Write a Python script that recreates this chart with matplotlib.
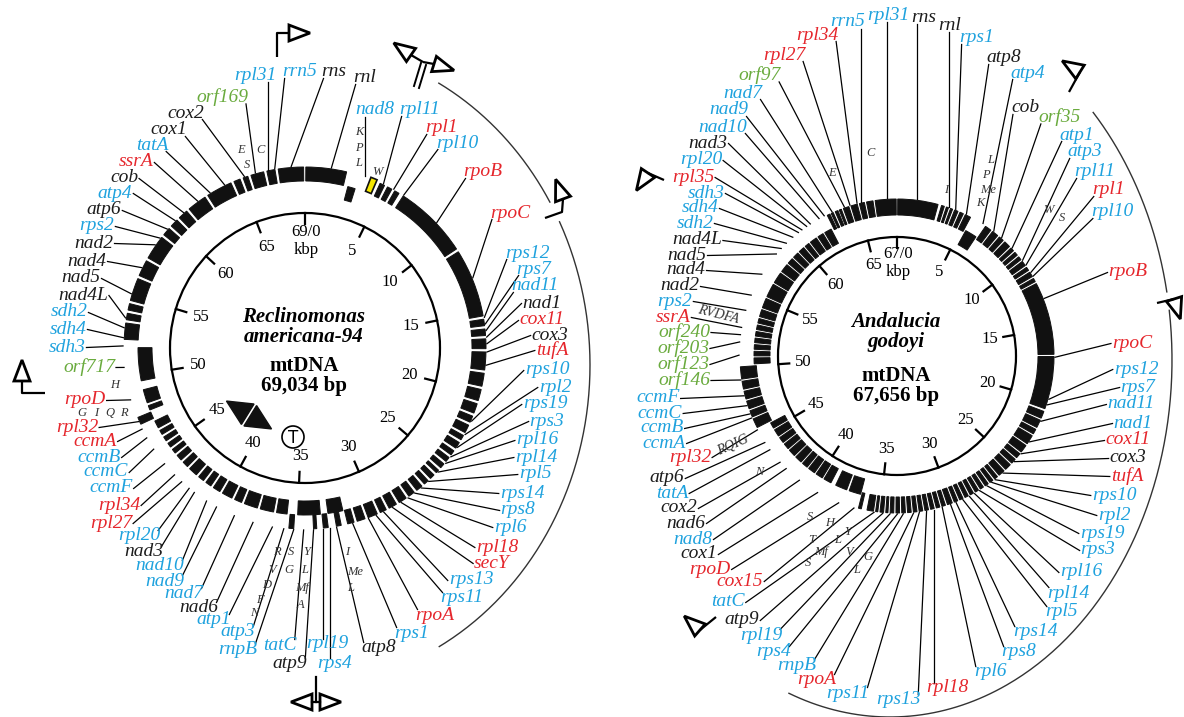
import numpy as np
import matplotlib
matplotlib.use("Agg")
import matplotlib.pyplot as plt
from matplotlib.patches import Wedge, Circle, Polygon

plt.rcParams["font.family"] = ["Liberation Serif", "DejaVu Serif"]

W, H = 1184, 717
COLORS = {"k": "#1c1c1c", "b": "#1fa2de", "r": "#e5262c", "g": "#6aab3e"}

# ---------------- Reclinomonas americana-94 ----------------
RA_LENGTH = 69.034
RA_GENES = ["rnl", "rns", "rrn5", "rpl31", "orf169", "cox2", "cox1", "tatA",
            "ssrA", "cob", "atp4", "atp6", "rps2", "nad2", "nad4", "nad5",
            "nad4L", "sdh2", "sdh4", "sdh3", "orf717", "rpoD", "rpl32", "ccmA",
            "ccmB", "ccmC", "ccmF", "rpl34", "rpl27", "rpl20", "nad3", "nad10",
            "nad9", "nad7", "nad6", "atp1", "atp3", "rnpB", "tatC", "atp9",
            "rpl19", "rps4", "atp8", "rps1", "rpoA", "rps11", "rps13", "secY",
            "rpl18", "rpl6", "rps8", "rps14", "rpl5", "rpl14", "rpl16", "rps3",
            "rps19", "rpl2", "rps10", "tufA", "cox3", "cox11", "nad1", "nad11",
            "rps7", "rps12", "rpoC", "rpoB", "rpl10", "rpl1", "rpl11", "nad8"]
RA_CLASS = ["k", "k", "b", "b", "g", "k", "k", "b",
            "r", "k", "b", "k", "b", "k", "k", "k",
            "k", "b", "b", "b", "g", "r", "r", "r",
            "b", "b", "b", "r", "r", "b", "k", "b",
            "b", "b", "k", "b", "b", "b", "b", "k",
            "b", "b", "k", "b", "r", "b", "b", "r",
            "r", "b", "b", "b", "b", "b", "b", "b",
            "b", "b", "b", "r", "k", "r", "k", "b",
            "b", "b", "r", "r", "b", "r", "b", "b"]
RA_KBP = [1.6, 68.2, 67.2, 66.8, 66.0, 65.3, 64.0, 63.0,
          62.1, 61.0, 60.3, 59.6, 58.9, 58.4, 56.8, 55.1,
          53.6, 53.0, 52.4, 51.9, 50.6, 48.6, 47.2, 46.7,
          46.1, 45.3, 44.2, 43.3, 42.7, 42.1, 41.7, 40.8,
          40.1, 38.9, 37.7, 36.5, 35.8, 35.2, 34.6, 34.0,
          33.4, 33.0, 32.6, 31.6, 30.6, 30.1, 29.6, 29.0,
          28.4, 27.9, 27.4, 26.9, 26.3, 25.5, 24.8, 24.3,
          23.6, 22.7, 21.8, 18.3, 17.5, 17.0, 16.6, 16.2,
          15.8, 15.4, 12.9, 8.9, 6.3, 5.6, 4.9, 3.7]
# gene blocks on the ring: (start kbp, end kbp, strand track)
RA_BLOCKS = [
    (0.05, 2.55, "o"), (2.85, 3.35, "i"), (4.7, 5.0, "o"), (5.2, 5.5, "o"), (5.7, 6.0, "o"),
    (6.3, 10.9, "o"), (11.1, 15.3, "o"), (15.5, 15.9, "o"), (16.1, 16.5, "o"), (16.7, 17.3, "o"),
    (17.5, 18.6, "o"), (18.8, 19.6, "o"), (19.8, 20.5, "o"), (20.7, 21.3, "o"), (21.5, 21.9, "o"),
    (22.1, 22.6, "o"), (22.8, 23.1, "o"), (23.3, 23.7, "o"), (23.9, 24.2, "o"), (24.4, 24.7, "o"),
    (24.9, 25.2, "o"), (25.4, 25.6, "o"), (25.8, 26.1, "o"), (26.3, 26.6, "o"), (26.8, 27.2, "o"),
    (27.4, 27.8, "o"), (28.0, 28.5, "o"), (28.7, 29.2, "o"), (29.4, 29.8, "o"), (30.0, 30.6, "o"),
    (30.8, 31.3, "o"), (31.5, 31.9, "o"), (32.3, 32.6, "o"), (33.1, 33.4, "o"), (33.8, 34.0, "o"),
    (35.2, 35.5, "o"), (32.0, 33.0, "i"), (33.5, 35.0, "i"), (35.7, 36.4, "i"), (36.6, 37.5, "i"),
    (37.7, 38.6, "i"), (38.8, 39.3, "i"), (39.5, 40.2, "i"), (40.4, 40.9, "i"), (41.1, 41.5, "i"),
    (41.7, 42.1, "i"), (42.3, 42.9, "i"), (43.1, 43.5, "i"), (43.7, 44.1, "i"), (44.3, 44.6, "i"),
    (44.8, 45.1, "i"), (45.3, 45.6, "i"), (45.8, 46.1, "i"), (46.3, 46.8, "i"), (47.0, 47.45, "o"),
    (47.6, 47.9, "i"), (48.1, 49.0, "i"), (49.6, 51.8, "i"), (52.3, 53.3, "o"), (53.5, 53.9, "o"),
    (54.1, 54.5, "o"), (54.7, 56.1, "o"), (56.3, 57.3, "o"), (57.5, 59.0, "o"), (59.2, 59.7, "o"),
    (59.9, 60.4, "o"), (60.6, 61.2, "o"), (61.4, 62.6, "o"), (62.8, 64.4, "o"), (64.6, 65.0, "o"),
    (65.2, 65.5, "o"), (65.7, 66.5, "o"), (66.7, 67.2, "o"), (67.4, 68.95, "o")]
RA_HIGHLIGHT = (4.05, 4.45)
RA_TRNA = ["E", "S", "C", "K", "P", "L", "W", "H", "G", "I", "Q", "R",
           "R", "V", "D", "F", "N", "S", "G", "Y", "L", "Mf", "A", "I", "Me", "L"]

# ---------------- Andalucia godoyi ----------------
AG_LENGTH = 67.656
AG_GENES = ["rpl31", "rrn5", "rpl34", "rpl27", "orf97", "nad7", "nad9", "nad10",
            "nad3", "rpl20", "rpl35", "sdh3", "sdh4", "sdh2", "nad4L", "nad5",
            "nad4", "nad2", "rps2", "ssrA", "orf240", "orf203", "orf123", "orf146",
            "ccmF", "ccmC", "ccmB", "ccmA", "rpl32", "atp6", "tatA", "cox2",
            "nad6", "nad8", "cox1", "rpoD", "cox15", "tatC", "atp9", "rpl19",
            "rps4", "rnpB", "rpoA", "rps11", "rps13", "rpl18", "rpl6", "rps8",
            "rps14", "rpl5", "rpl14", "rpl16", "rps3", "rps19", "rpl2", "rps10",
            "tufA", "cox3", "cox11", "nad1", "nad11", "rps7", "rps12", "rpoC",
            "rpoB", "rpl10", "rpl1", "rpl11", "atp3", "atp1", "orf35", "cob",
            "atp4", "atp8", "rps1", "rnl", "rns"]
AG_CLASS = ["b", "b", "r", "r", "g", "b", "b", "b",
            "k", "b", "r", "b", "b", "b", "k", "k",
            "k", "k", "b", "r", "g", "g", "g", "g",
            "b", "b", "b", "b", "r", "k", "b", "k",
            "k", "b", "k", "r", "r", "b", "k", "b",
            "b", "b", "r", "b", "b", "r", "b", "b",
            "b", "b", "b", "b", "b", "b", "b", "b",
            "r", "k", "r", "b", "b", "b", "b", "r",
            "r", "b", "r", "b", "b", "b", "g", "k",
            "b", "k", "b", "k", "k"]
AG_KBP = [67.0, 65.2, 64.9, 64.4, 64.0, 63.1, 62.5, 62.1,
          61.4, 61.1, 60.7, 60.4, 59.9, 59.3, 58.8, 58.3,
          56.6, 55.0, 53.9, 52.7, 52.2, 51.7, 50.8, 49.1,
          48.0, 47.3, 46.7, 46.4, 45.5, 44.5, 43.9, 42.8,
          42.2, 41.0, 39.5, 37.9, 36.8, 35.4, 34.8, 34.3,
          33.8, 33.4, 32.7, 32.3, 31.8, 31.3, 30.7, 30.1,
          29.7, 29.2, 28.7, 28.3, 27.9, 27.3, 26.9, 26.6,
          25.9, 24.8, 24.1, 23.1, 21.5, 20.3, 19.9, 17.0,
          12.9, 11.2, 10.9, 10.3, 9.9, 8.8, 7.8, 7.1,
          6.2, 4.9, 4.1, 3.6, 1.4]
AG_BLOCKS = [
    (0.05, 2.85, "o"), (3.1, 3.3, "o"), (3.45, 3.6, "o"), (3.75, 3.9, "o"), (4.05, 4.3, "o"),
    (4.45, 4.7, "o"), (4.85, 5.25, "o"), (5.4, 6.3, "i"), (6.45, 6.9, "o"), (7.05, 7.5, "o"),
    (7.65, 8.0, "o"), (8.15, 8.6, "o"), (8.75, 9.0, "o"), (9.15, 9.4, "o"), (9.55, 9.8, "o"),
    (9.95, 10.3, "o"), (10.45, 10.7, "o"), (10.85, 11.2, "o"), (11.35, 11.6, "o"), (11.75, 16.8, "o"),
    (16.95, 20.6, "o"), (20.8, 21.3, "o"), (21.45, 22.0, "o"), (22.15, 22.5, "o"), (22.65, 23.3, "o"),
    (23.45, 24.0, "o"), (24.15, 24.5, "o"), (24.65, 25.0, "o"), (25.15, 25.6, "o"), (25.75, 26.2, "o"),
    (26.35, 26.6, "o"), (26.75, 27.0, "o"), (27.15, 27.4, "o"), (27.55, 27.8, "o"), (27.95, 28.2, "o"),
    (28.35, 28.6, "o"), (28.75, 29.0, "o"), (29.15, 29.4, "o"), (29.55, 29.8, "o"), (29.95, 30.3, "o"),
    (30.45, 30.7, "o"), (30.85, 31.1, "o"), (31.25, 31.5, "o"), (31.65, 31.9, "o"), (32.05, 32.3, "o"),
    (32.45, 32.7, "o"), (32.85, 33.1, "o"), (33.25, 33.5, "o"), (33.65, 33.9, "o"), (34.05, 34.3, "o"),
    (34.45, 34.6, "o"), (34.75, 35.0, "o"), (35.15, 35.3, "o"), (35.45, 35.9, "o"), (36.3, 36.5, "o"),
    (36.6, 37.5, "i"), (37.7, 38.6, "i"), (39.0, 39.6, "i"), (39.75, 40.3, "i"), (40.45, 41.0, "i"),
    (41.15, 41.6, "i"), (41.75, 42.3, "i"), (42.45, 43.0, "i"), (43.15, 43.6, "i"), (43.75, 44.2, "i"),
    (44.35, 44.9, "i"), (45.05, 45.5, "i"), (45.65, 46.3, "o"), (46.45, 46.9, "o"), (47.05, 47.6, "o"),
    (47.75, 48.3, "o"), (48.45, 49.0, "o"), (49.15, 50.0, "o"), (50.15, 50.6, "i"), (50.75, 51.1, "i"),
    (51.25, 51.6, "i"), (51.75, 52.1, "i"), (52.25, 52.6, "i"), (52.75, 53.1, "i"), (53.25, 53.6, "i"),
    (53.75, 54.3, "i"), (54.45, 55.2, "i"), (55.35, 56.4, "i"), (56.55, 57.4, "i"), (57.55, 58.2, "i"),
    (58.35, 58.8, "i"), (58.95, 59.4, "i"), (59.55, 60.0, "i"), (60.15, 60.5, "i"), (60.65, 61.2, "i"),
    (61.35, 61.8, "i"), (61.95, 62.5, "i"), (62.7, 62.9, "o"), (63.0, 63.15, "o"), (63.3, 63.5, "o"),
    (63.6, 63.75, "o"), (63.9, 64.3, "o"), (64.45, 64.9, "o"), (65.05, 65.4, "o"), (65.55, 66.0, "o"),
    (66.15, 67.6, "o")]
AG_TRNA = ["C", "E", "I", "L", "P", "Me", "K", "W", "S", "N", "S", "H", "T", "L",
           "Y", "Mf", "V", "S", "G", "L"]

# ---------------- layout (pixels) ----------------
RA_CENTER, RA_CIRCLE_R, RA_TICK_LABEL_R = (305, 348), 135, 108
RA_TRACKS = {"o": (167, 181), "i": (153, 167)}
AG_CENTER, AG_CIRCLE_R, AG_TICK_LABEL_R = (897, 356), 119, 94
AG_TRACKS = {"o": (141, 157), "i": (127, 143)}

RA_LABEL_XY = [(365, 78), (334, 72), (300, 72), (255, 75), (222, 97), (186, 113), (169, 130), (152, 145),
               (136, 162), (124, 178), (115, 193), (104, 210), (97, 226), (94, 243), (87, 261), (81, 278),
               (83, 295), (69, 312), (68, 329), (67, 347), (89, 367), (85, 400), (77, 427), (95, 441),
               (99, 457), (106, 472), (111, 488), (119, 505), (111, 523), (139, 536), (144, 552), (160, 566),
               (165, 581), (184, 594), (199, 608), (214, 620), (238, 632), (238, 649), (280, 645), (290, 664),
               (327, 644), (335, 663), (379, 648), (412, 633), (435, 615), (462, 598), (471, 580), (492, 563),
               (497, 547), (510, 527), (518, 510), (522, 493), (535, 474), (536, 457), (537, 440), (547, 421),
               (545, 404), (555, 387), (547, 370), (552, 350), (550, 335), (542, 320), (542, 303), (535, 286),
               (534, 269), (527, 253), (510, 213), (483, 172), (457, 143), (441, 128), (420, 110), (375, 110)]
AG_LABEL_XY = [(888, 15), (848, 22), (817, 35), (784, 55), (760, 75), (743, 93), (729, 110), (723, 127),
               (708, 143), (701, 160), (693, 177), (706, 193), (700, 208), (695, 223), (697, 240), (687, 255),
               (686, 270), (680, 286), (675, 301), (673, 317), (684, 332), (683, 348), (683, 364), (684, 380),
               (658, 398), (660, 413), (662, 428), (664, 443), (690, 457), (667, 478), (672, 493), (679, 508),
               (686, 523), (693, 539), (699, 554), (710, 569), (740, 581), (728, 602), (742, 620), (761, 635),
               (774, 652), (797, 665), (817, 680), (848, 693), (898, 700), (947, 688), (990, 672), (1019, 652),
               (1035, 632), (1061, 612), (1068, 593), (1081, 572), (1098, 550), (1102, 533), (1114, 515), (1114, 495),
               (1127, 476), (1128, 458), (1128, 440), (1133, 423), (1131, 404), (1138, 387), (1136, 369), (1132, 343),
               (1128, 272), (1112, 212), (1108, 190), (1095, 172), (1085, 152), (1077, 135), (1060, 117), (1025, 108),
               (1028, 73), (1004, 58), (977, 38), (950, 25), (924, 17)]
RA_TRNA_XY = [(241, 150), (247, 165), (260, 150), (359, 132), (359, 148), (359, 163), (377, 172),
              (115, 385), (82, 413), (96, 413), (110, 413), (124, 413),
              (277, 552), (272, 570), (267, 585), (260, 600), (254, 613), (291, 552), (289, 570),
              (307, 552), (305, 570), (302, 588), (300, 605), (347, 552), (355, 572), (351, 588)]
AG_TRNA_XY = [(870, 153), (832, 173), (946, 190), (991, 160), (986, 175), (988, 190), (980, 203),
              (1048, 210), (1062, 218), (759, 472), (810, 517), (830, 523), (812, 540), (838, 540),
              (848, 532), (821, 552), (849, 552), (808, 563), (868, 557), (857, 570)]

for names, cls, kb, xy in [(RA_GENES, RA_CLASS, RA_KBP, RA_LABEL_XY),
                           (AG_GENES, AG_CLASS, AG_KBP, AG_LABEL_XY)]:
    assert len(names) == len(cls) == len(kb) == len(xy)


def polar(c, r, kbp, length):
    a = 2.0 * np.pi * np.asarray(kbp, dtype=float) / length
    return c[0] + r * np.sin(a), c[1] - r * np.cos(a)


def open_triangle(ax, base, direction, length=21, half=8, lw=2.0):
    d = np.asarray(direction, dtype=float)
    d /= np.linalg.norm(d)
    n = np.array([-d[1], d[0]])
    b = np.asarray(base, dtype=float)
    pts = [b + n * half, b + d * length, b - n * half]
    ax.add_patch(Polygon(pts, closed=True, fill=False, ec="k", lw=lw, joinstyle="miter"))


def promoter(ax, pts, direction):
    xs, ys = zip(*pts)
    ax.plot(xs, ys, color="k", lw=1.6, solid_capstyle="butt")
    open_triangle(ax, pts[-1], direction)


def ellipse_arc(ax, c, rx, ry, t0, t1):
    t = np.radians(np.linspace(t0, t1, 200))
    ax.plot(c[0] + rx * np.cos(t), c[1] + ry * np.sin(t), color="#333333", lw=1.0)


def draw_map(ax, c, length, circle_r, tick_r, tracks, blocks, highlight):
    ax.add_patch(Circle(c, circle_r, fill=False, ec="k", lw=1.6))
    for k in range(0, int(length), 5):
        x0, y0 = polar(c, circle_r, k, length)
        x1, y1 = polar(c, circle_r - 11, k, length)
        ax.plot([x0, x1], [y0, y1], color="k", lw=1.6)
        tx, ty = polar(c, tick_r, k, length)
        if k == 0:
            ax.text(tx + 1, ty - 8, f"{int(length)}/0", ha="center", va="center", fontsize=12)
            ax.text(tx + 1, ty + 10, "kbp", ha="center", va="center", fontsize=12)
        else:
            ax.text(tx, ty, str(k), ha="center", va="center", fontsize=12)
    for s, e, tr in blocks:
        r0, r1 = tracks[tr]
        ax.add_patch(Wedge(c, r1, s / length * 360 - 90, e / length * 360 - 90,
                           width=r1 - r0, facecolor="#111111", edgecolor="#111111", lw=0.7))
    if highlight is not None:
        r0, r1 = tracks["o"]
        ax.add_patch(Wedge(c, r1 + 2, highlight[0] / length * 360 - 90,
                           highlight[1] / length * 360 - 90, width=r1 - r0 + 1,
                           facecolor="#f4e600", edgecolor="#111111", lw=1.2))


def draw_labels(fig, ax, c, length, r_end, names, classes, kbps, label_xy):
    texts = []
    for name, cl, (x, y) in zip(names, classes, label_xy):
        texts.append(ax.text(x, y, name, color=COLORS[cl], fontsize=14, style="italic",
                             ha="center", va="center"))
    fig.canvas.draw()
    inv = ax.transData.inverted()
    for t, k in zip(texts, kbps):
        bb = t.get_window_extent()
        (x0, y0), (x1, y1) = inv.transform([[bb.x0, bb.y0], [bb.x1, bb.y1]])
        xlo, xhi = sorted((x0, x1))
        ylo, yhi = sorted((y0, y1))
        ylo, yhi = ylo + 4, yhi - 3
        ex, ey = polar(c, r_end, k, length)
        dx_out = max(xlo - ex, ex - xhi, 0)
        dy_out = max(ylo - ey, ey - yhi, 0)
        if dx_out > dy_out:
            sx = xhi + 1 if ex > xhi else xlo - 1
            sy = 0.5 * (ylo + yhi)
        else:
            sx = np.clip(ex, xlo + 2, xhi - 2)
            sy = yhi + 1 if ey > yhi else ylo - 1
        ax.plot([sx, ex], [sy, ey], color="k", lw=0.9)


fig = plt.figure(figsize=(W / 100, H / 100), dpi=100)
ax = fig.add_axes([0, 0, 1, 1])
ax.set_xlim(0, W)
ax.set_ylim(H, 0)
ax.axis("off")

# Reclinomonas map
draw_map(ax, RA_CENTER, RA_LENGTH, RA_CIRCLE_R, RA_TICK_LABEL_R, RA_TRACKS, RA_BLOCKS, RA_HIGHLIGHT)
draw_labels(fig, ax, RA_CENTER, RA_LENGTH, RA_TRACKS["o"][1] + 1,
            RA_GENES, RA_CLASS, RA_KBP, RA_LABEL_XY)
for s, (x, y) in zip(RA_TRNA, RA_TRNA_XY):
    ax.text(x, y, s, fontsize=9, style="italic", color="#333333", ha="center", va="center")
ax.text(304, 327, "Reclinomonas\namericana-94", ha="center", va="center", fontsize=15,
        weight="bold", style="italic", linespacing=1.0)
ax.text(304, 376, "mtDNA\n69,034 bp", ha="center", va="center", fontsize=15,
        weight="bold", linespacing=1.0)
mid = np.array([249.0, 415.0])
u = np.array([0.85, 0.526])
nrm = np.array([-u[1], u[0]])
for sgn in (-1, 1):
    base = mid + sgn * 1.5 * u
    ax.add_patch(Polygon([base + nrm * 12, base + sgn * 25 * u, base - nrm * 12],
                         closed=True, color="#111111"))
ax.add_patch(Circle((293, 437), 11, fill=False, ec="k", lw=1.2))
ax.text(293, 438, "T", family="DejaVu Sans", fontsize=12, ha="center", va="center")

promoter(ax, [(277, 57), (277, 33), (289, 33)], (1, 0))
ax.plot([414, 421], [86, 63], color="k", lw=1.4)
ax.plot([419, 426], [88, 65], color="k", lw=1.4)
promoter(ax, [(423, 62), (411, 55)], (-0.82, -0.57))
promoter(ax, [(423, 62), (434, 64)], (0.95, 0.3))
promoter(ax, [(545, 218), (562, 212), (563, 199)], (-0.35, -0.94))
promoter(ax, [(45, 393), (22, 393), (22, 381)], (0, -1))
ax.plot([316, 316], [677, 702], color="k", lw=1.6)
ax.plot([312, 320], [702, 702], color="k", lw=1.6)
open_triangle(ax, (312, 702), (-1, 0))
open_triangle(ax, (320, 702), (1, 0))
ellipse_arc(ax, (300, 365), 290, 321, -61.4, -30.5)
ellipse_arc(ax, (300, 365), 290, 321, -26.5, 61.3)

# Andalucia map
draw_map(ax, AG_CENTER, AG_LENGTH, AG_CIRCLE_R, AG_TICK_LABEL_R, AG_TRACKS, AG_BLOCKS, None)
draw_labels(fig, ax, AG_CENTER, AG_LENGTH, AG_TRACKS["o"][1] + 1,
            AG_GENES, AG_CLASS, AG_KBP, AG_LABEL_XY)
for s, (x, y) in zip(AG_TRNA, AG_TRNA_XY):
    ax.text(x, y, s, fontsize=9, style="italic", color="#333333", ha="center", va="center")
ax.text(718, 315, "RVDFA", fontsize=10, style="italic", color="#333333", ha="center",
        va="center", rotation=-14)
ax.text(733, 445, "RQIG", fontsize=10, style="italic", color="#333333", ha="center",
        va="center", rotation=24)
ax.text(896, 332, "Andalucia\ngodoyi", ha="center", va="center", fontsize=15,
        weight="bold", style="italic", linespacing=1.0)
ax.text(896, 386, "mtDNA\n67,656 bp", ha="center", va="center", fontsize=15,
        weight="bold", linespacing=1.0)

promoter(ax, [(1069, 92), (1080, 72)], (-0.85, -0.53))
promoter(ax, [(664, 180), (648, 173)], (-0.55, 0.83))
promoter(ax, [(1157, 303), (1174, 299)], (0.3, 0.95))
promoter(ax, [(716, 617), (700, 630)], (-0.75, -0.66))
ellipse_arc(ax, (890, 360), 282, 357, -43.9, -11.0)
ellipse_arc(ax, (890, 360), 282, 357, -8.0, 111.0)

fig.savefig("out.png", dpi=100)
